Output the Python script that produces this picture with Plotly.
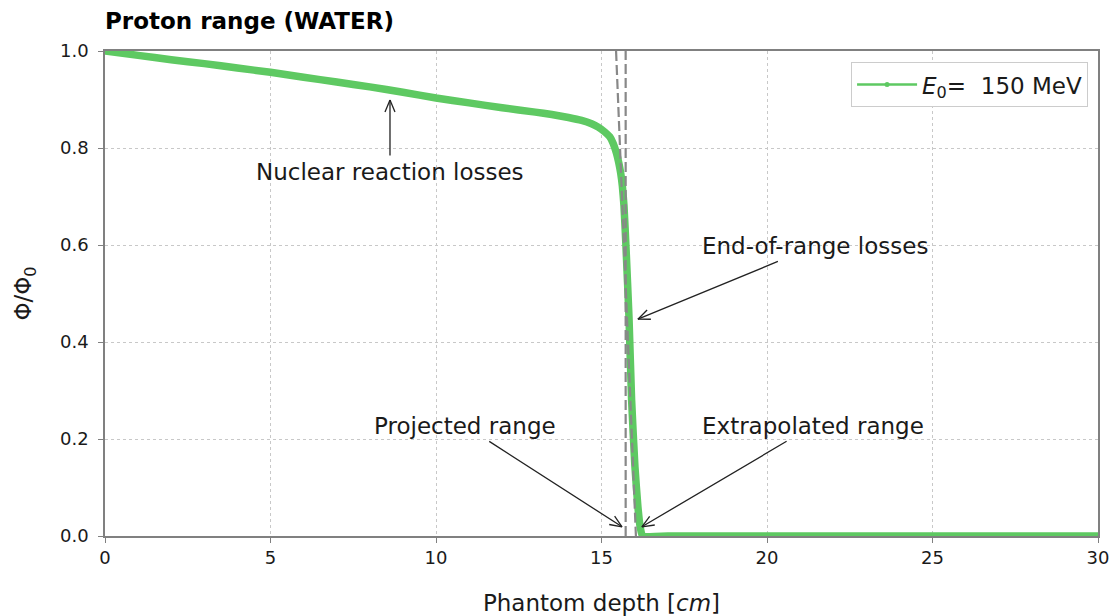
import math
import plotly.graph_objects as go

# Relative proton fluence vs. depth in water, E0 = 150 MeV
depth_cm = [0.0, 1.0, 2.0, 3.0, 4.0, 5.0, 6.0, 7.0, 8.0, 9.0, 10.0, 11.0, 12.0,
            13.0, 13.5, 14.0, 14.4, 14.7, 14.9, 15.1, 15.25, 15.35, 15.45, 15.52,
            15.58, 15.63, 15.68, 15.74, 15.83, 15.91, 16.01, 16.1, 16.17, 16.24,
            17.0, 20.0, 25.0, 30.0]
fluence = [1.000, 0.991, 0.982, 0.974, 0.965, 0.956, 0.946, 0.936, 0.926, 0.915,
           0.903, 0.893, 0.883, 0.874, 0.869, 0.863, 0.857, 0.850, 0.843, 0.833,
           0.823, 0.810, 0.790, 0.770, 0.748, 0.722, 0.680, 0.596, 0.452, 0.280,
           0.143, 0.060, 0.018, 0.0, 0.0, 0.0, 0.0, 0.0]

# Range markers
projected_range = 15.73
tangent_depth = [15.44, 16.04]
tangent_fluence = [1.0, 0.0]

# Annotations: label, arrow tip (depth, fluence), text offset from tip in px
annotations = [
    ("Nuclear reaction losses", 8.61, 0.899, 0, 72),
    ("End-of-range losses", 16.10, 0.447, 177, -73),
    ("Projected range", 15.62, 0.019, -157, -101),
    ("Extrapolated range", 16.22, 0.019, 171, -101),
]

GREEN = "#5ec962"
FONT = "DejaVu Sans"
TEXT = "#1a1a1a"
DASH_GREY = "#888888"

fig = go.Figure()

fig.add_trace(go.Scatter(
    x=depth_cm, y=fluence, mode="lines",
    line=dict(color=GREEN, width=7.5, shape="spline", smoothing=0.4),
    showlegend=False, hoverinfo="skip",
))

fig.add_trace(go.Scatter(
    x=[projected_range, projected_range], y=[0, 1], mode="lines",
    line=dict(color=DASH_GREY, width=2.2, dash="10px,4px"),
    showlegend=False, hoverinfo="skip",
))
fig.add_trace(go.Scatter(
    x=tangent_depth, y=tangent_fluence, mode="lines",
    line=dict(color=DASH_GREY, width=2.2, dash="10px,4px"),
    showlegend=False, hoverinfo="skip",
))

# legend entry: thin line with a small dot
fig.add_trace(go.Scatter(
    x=[None], y=[None], mode="lines+markers",
    line=dict(color=GREEN, width=2.5), marker=dict(color=GREEN, size=5),
    name="<i>E</i><sub>0</sub>=\u00a0\u00a0150 MeV",
))

shapes = []
ann = []
HEAD_LEN = 12
HEAD_HALF = 5
for label, tx, ty, ax_px, ay_px in annotations:
    ann.append(dict(
        x=tx, y=ty, xref="x", yref="y", ax=ax_px, ay=ay_px,
        text=label, showarrow=True, arrowhead=0, arrowwidth=1.3,
        arrowcolor="#222222", standoff=0, startstandoff=2,
        font=dict(family=FONT, size=23, color=TEXT),
    ))
    # open arrow head at the tip, drawn in pixel units
    dx, dy = ax_px, -ay_px
    n = math.hypot(dx, dy)
    ux, uy = dx / n, dy / n
    px, py = -uy, ux
    for s in (1, -1):
        shapes.append(dict(
            type="line", xref="x", yref="y",
            xsizemode="pixel", ysizemode="pixel", xanchor=tx, yanchor=ty,
            x0=0, y0=0,
            x1=ux * HEAD_LEN + s * px * HEAD_HALF,
            y1=uy * HEAD_LEN + s * py * HEAD_HALF,
            line=dict(color="#222222", width=1.3),
        ))

fig.update_layout(
    width=1117, height=616,
    margin=dict(l=105, r=19, t=51, b=80, autoexpand=False),
    paper_bgcolor="white", plot_bgcolor="white",
    font=dict(family=FONT, color=TEXT),
    title=dict(
        text="<b>Proton range (WATER)</b>",
        x=0, xref="paper", xanchor="left",
        y=1 - 21 / 616, yref="container", yanchor="middle",
        font=dict(family=FONT, size=23, color="black"),
    ),
    legend=dict(
        x=0.99, y=0.977, xanchor="right", yanchor="top",
        bgcolor="white", bordercolor="#cccccc", borderwidth=1,
        itemwidth=60,
        font=dict(family=FONT, size=23, color=TEXT),
    ),
    annotations=ann,
    shapes=shapes,
)

axis_common = dict(
    showline=True, linecolor="#808080", linewidth=1.5, mirror=True,
    showgrid=True, gridcolor="#c8c8c8", griddash="dot", gridwidth=1,
    zeroline=False, ticks="outside", ticklen=5, tickcolor="#808080",
    tickfont=dict(family=FONT, size=18, color=TEXT), automargin=False,
)

fig.update_xaxes(
    range=[0, 30], tickmode="linear", tick0=0, dtick=5,
    title=dict(text="Phantom depth [<i>cm</i>]", standoff=28,
               font=dict(family=FONT, size=23, color=TEXT)),
    **axis_common,
)
fig.update_yaxes(
    range=[0, 1], tickmode="linear", tick0=0, dtick=0.2, tickformat=".1f",
    ticklabelstandoff=6,
    title=dict(text="Φ/Φ<sub>0</sub>", standoff=22,
               font=dict(family=FONT, size=23, color=TEXT)),
    **axis_common,
)

fig.write_html("out.html")
